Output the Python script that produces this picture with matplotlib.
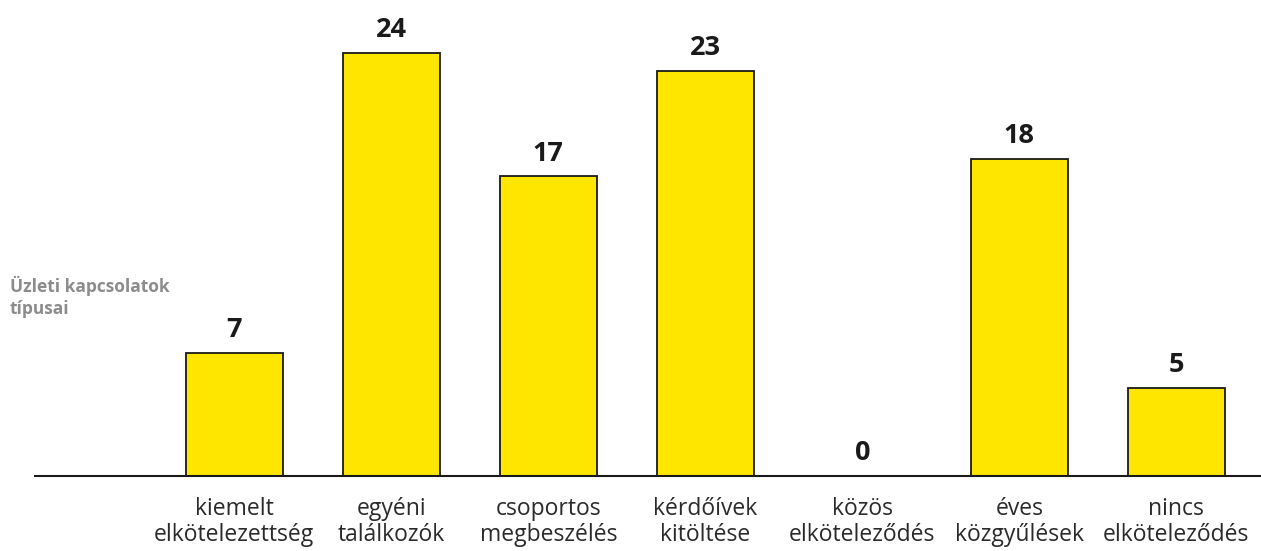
import matplotlib.pyplot as plt

# Data
categories = ['kiemelt\nelkötelezettség', 'egyéni\ntalálkozók', 'csoportos\nmegbeszélés',
              'kérdőívek\nkitöltése', 'közös\nelköteleződés', 'éves\nközgyűlések',
              'nincs\nelköteleződés']
values = [7, 24, 17, 23, 0, 18, 5]
side_label = 'Üzleti kapcsolatok\ntípusai'

plt.rcParams['font.family'] = ['Open Sans', 'DejaVu Sans']

fig = plt.figure(figsize=(12.61, 5.51), dpi=100)
ax = fig.add_axes([35 / 1261, 75 / 551, (1261 - 35) / 1261, 476 / 551])

x = list(range(len(values)))
bars = ax.bar(x, values, width=0.62, color='#FFE600', edgecolor='#1a1a1a', linewidth=1.3, zorder=2)

for xi, v in zip(x, values):
    ax.annotate(str(v), (xi, v), xytext=(0, 7), textcoords='offset points',
                ha='center', va='bottom', fontsize=19.5, fontweight='bold', color='#1a1a1a')

ax.set_xlim(-1.27, 6.54)
ax.set_ylim(0, 27)

for s in ['top', 'right', 'left']:
    ax.spines[s].set_visible(False)
ax.spines['bottom'].set_linewidth(1.5)
ax.spines['bottom'].set_color('#1a1a1a')
ax.set_yticks([])
ax.set_xticks(x)
ax.set_xticklabels(categories, fontsize=16.5, color='#2a2a2a', linespacing=1.12)
ax.tick_params(axis='x', length=0, pad=15)

fig.text(10 / 1261, 1 - 276 / 551, side_label, fontsize=12.5, fontweight='bold',
         color='#8c8c8c', ha='left', va='top', linespacing=1.25)

plt.savefig('out.png', dpi=100)
